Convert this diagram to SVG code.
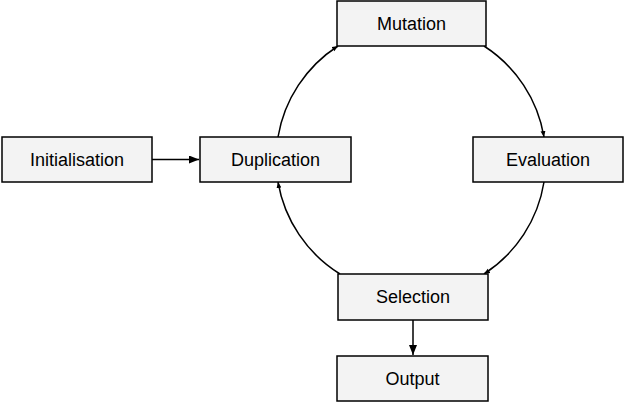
<svg xmlns="http://www.w3.org/2000/svg" width="625" height="403" viewBox="0 0 625 403">
<style>
.box{fill:#f3f3f3;stroke:#000;stroke-width:1.5}
.lbl{font-family:"Liberation Sans",Arial,sans-serif;font-size:18px;fill:#000;text-anchor:middle}
.con{fill:none;stroke:#000;stroke-width:1.5}
</style>
<defs>
<marker id="big" markerWidth="10" markerHeight="8" refX="10" refY="4" orient="auto" markerUnits="userSpaceOnUse">
<path d="M0,0 L10,4 L0,8 Z" fill="#000"/>
</marker>
<marker id="small" markerWidth="6" markerHeight="6" refX="6" refY="3" orient="auto" markerUnits="userSpaceOnUse">
<path d="M0,0.5 L6,3 L0,5.5 Z" fill="#000"/>
</marker>
</defs>
<g id="connectors">
<path class="con" d="M152,159.5 L199,159.5" marker-end="url(#big)"/>
<path class="con" d="M413,320 L413,355" marker-end="url(#big)"/>
<path class="con" d="M278,137 A135,135 0 0 1 338,46" marker-end="url(#small)"/>
<path class="con" d="M484,46 A135,135 0 0 1 544,137" marker-end="url(#small)"/>
<path class="con" d="M544,182 A135,135 0 0 1 484,274" marker-end="url(#small)"/>
<path class="con" d="M340,274 A135,135 0 0 1 278,182" marker-end="url(#small)"/>
</g>
<g id="mutation"><rect class="box" x="337" y="1" width="149" height="45"/><text class="lbl" x="411.5" y="30">Mutation</text></g>
<g id="initialisation"><rect class="box" x="2" y="137" width="150" height="45"/><text class="lbl" x="77" y="166">Initialisation</text></g>
<g id="duplication"><rect class="box" x="200" y="137" width="151" height="45"/><text class="lbl" x="275.5" y="166">Duplication</text></g>
<g id="evaluation"><rect class="box" x="473" y="137" width="150" height="45"/><text class="lbl" x="548" y="166">Evaluation</text></g>
<g id="selection"><rect class="box" x="338" y="274" width="150" height="46"/><text class="lbl" x="413" y="303">Selection</text></g>
<g id="output"><rect class="box" x="337" y="356" width="151" height="45"/><text class="lbl" x="412.5" y="385">Output</text></g>
</svg>
